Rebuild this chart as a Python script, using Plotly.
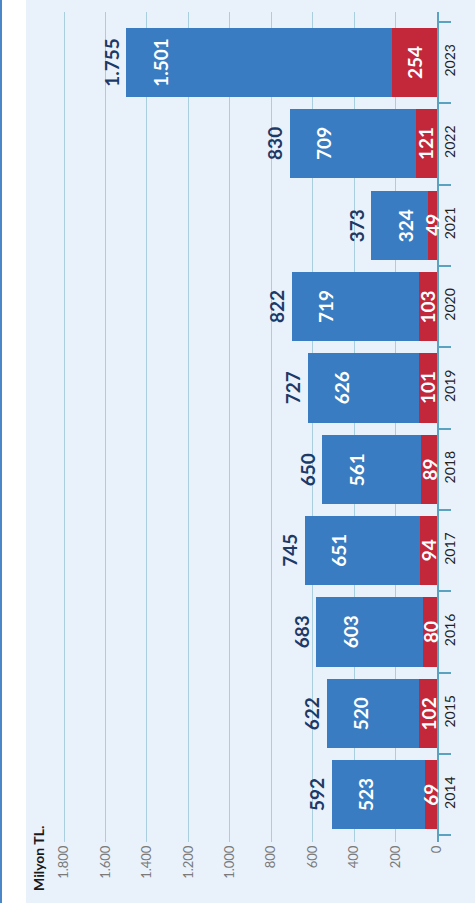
import plotly.graph_objects as go

# data
years = ["2014", "2015", "2016", "2017", "2018", "2019", "2020", "2021", "2022", "2023"]
blue_vals = [523, 520, 603, 651, 561, 626, 719, 324, 709, 1501]
red_vals = [69, 102, 80, 94, 89, 101, 103, 49, 121, 254]
totals = [592, 622, 683, 745, 650, 727, 822, 373, 830, 1755]
grid_vals = [0, 200, 400, 600, 800, 1000, 1200, 1400, 1600, 1800]

W, H = 475, 903
ML, MR, MT, MB = 40, 38, 12, 61
BLUE = "#3a7cc1"
RED = "#c2273a"
NAVY = "#1d3a66"
FONT = "Lato"


def tr(v):
    return f"{v:,}".replace(",", ".")


fig = go.Figure()

fig.add_trace(go.Bar(
    y=years, x=red_vals, orientation="h",
    marker=dict(color=RED, line_width=0), hoverinfo="skip",
))
fig.add_trace(go.Bar(
    y=years, x=blue_vals, orientation="h",
    marker=dict(color=BLUE, line_width=0), hoverinfo="skip",
))
# carrier for the Milyon TL. scale axis
fig.add_trace(go.Scatter(
    x=[0], y=[years[0]], xaxis="x2", mode="markers",
    marker=dict(opacity=0), hoverinfo="skip",
))

# numeric-looking category names are read as indices by annotations, so use i
ann = []
for i, (b, r, t) in enumerate(zip(blue_vals, red_vals, totals)):
    ann.append(dict(x=t, y=i, xref="x", yref="y", text=f"<b>{tr(t)}</b>",
                    textangle=-90, showarrow=False, xshift=-15,
                    font=dict(family=FONT, size=19, color=NAVY)))
    ann.append(dict(x=t, y=i, xref="x", yref="y", text=f"<b>{tr(b)}</b>",
                    textangle=-90, showarrow=False, xshift=34,
                    font=dict(family=FONT, size=19, color="white")))
    ann.append(dict(x=r / 2, y=i, xref="x", yref="y", text=f"<b>{tr(r)}</b>",
                    textangle=-90, showarrow=False,
                    font=dict(family=FONT, size=19, color="white")))

pw = W - ML - MR
ph = H - MT - MB
ann.append(dict(x=(38 - ML) / pw, y=(H - MB - 859) / ph, xref="paper", yref="paper",
                xanchor="center", yanchor="middle",
                text="<b>Milyon TL.</b>", textangle=-90, showarrow=False,
                font=dict(family=FONT, size=14, color="#1a1a1a")))

shapes = [
    dict(type="rect", xref="paper", yref="paper", layer="below",
         x0=(26 - ML) / pw, x1=(W - ML) / pw, y0=-MB / ph - 0.01, y1=(H - MT) / ph + 0.01,
         fillcolor="#e9f1fb", line_width=0),
    dict(type="rect", xref="paper", yref="paper", layer="below",
         x0=(0 - ML) / pw, x1=(2 - ML) / pw, y0=-MB / ph - 0.01, y1=(H - MT) / ph + 0.01,
         fillcolor="#4a86c8", line_width=0),
]

fig.update_layout(
    width=W, height=H,
    margin=dict(l=ML, r=MR, t=MT, b=MB, autoexpand=False),
    paper_bgcolor="white", plot_bgcolor="rgba(0,0,0,0)",
    barmode="stack", bargap=0.15, showlegend=False,
    font=dict(family=FONT),
    xaxis=dict(range=[2243, 0], showticklabels=False, showgrid=False, zeroline=False,
               showline=False, ticks="", fixedrange=True),
    xaxis2=dict(
        overlaying="x", side="bottom", anchor="y", layer="below traces",
        range=[1916, 0], tickvals=grid_vals, ticktext=[tr(v) for v in grid_vals],
        tickangle=-90, showgrid=True, gridcolor="#a9cfdf", gridwidth=1,
        zeroline=False, showline=False, ticks="",
        tickfont=dict(family=FONT, size=13, color="#7a7a7a"),
    ),
    yaxis=dict(
        type="category", categoryorder="array", categoryarray=years,
        range=[-0.58, 9.62], side="right", tickangle=-90,
        showline=True, linecolor="#5aa2bf", linewidth=2,
        ticks="outside", tickson="boundaries", ticklen=12, tickcolor="#5aa2bf", tickwidth=2,
        ticklabelstandoff=-1, showgrid=False,
        tickfont=dict(family=FONT, size=14, color="#222222"),
    ),
    annotations=ann, shapes=shapes,
)

fig.write_html("out.html", config={"displayModeBar": False},
               post_script="document.body.style.margin='0';")
